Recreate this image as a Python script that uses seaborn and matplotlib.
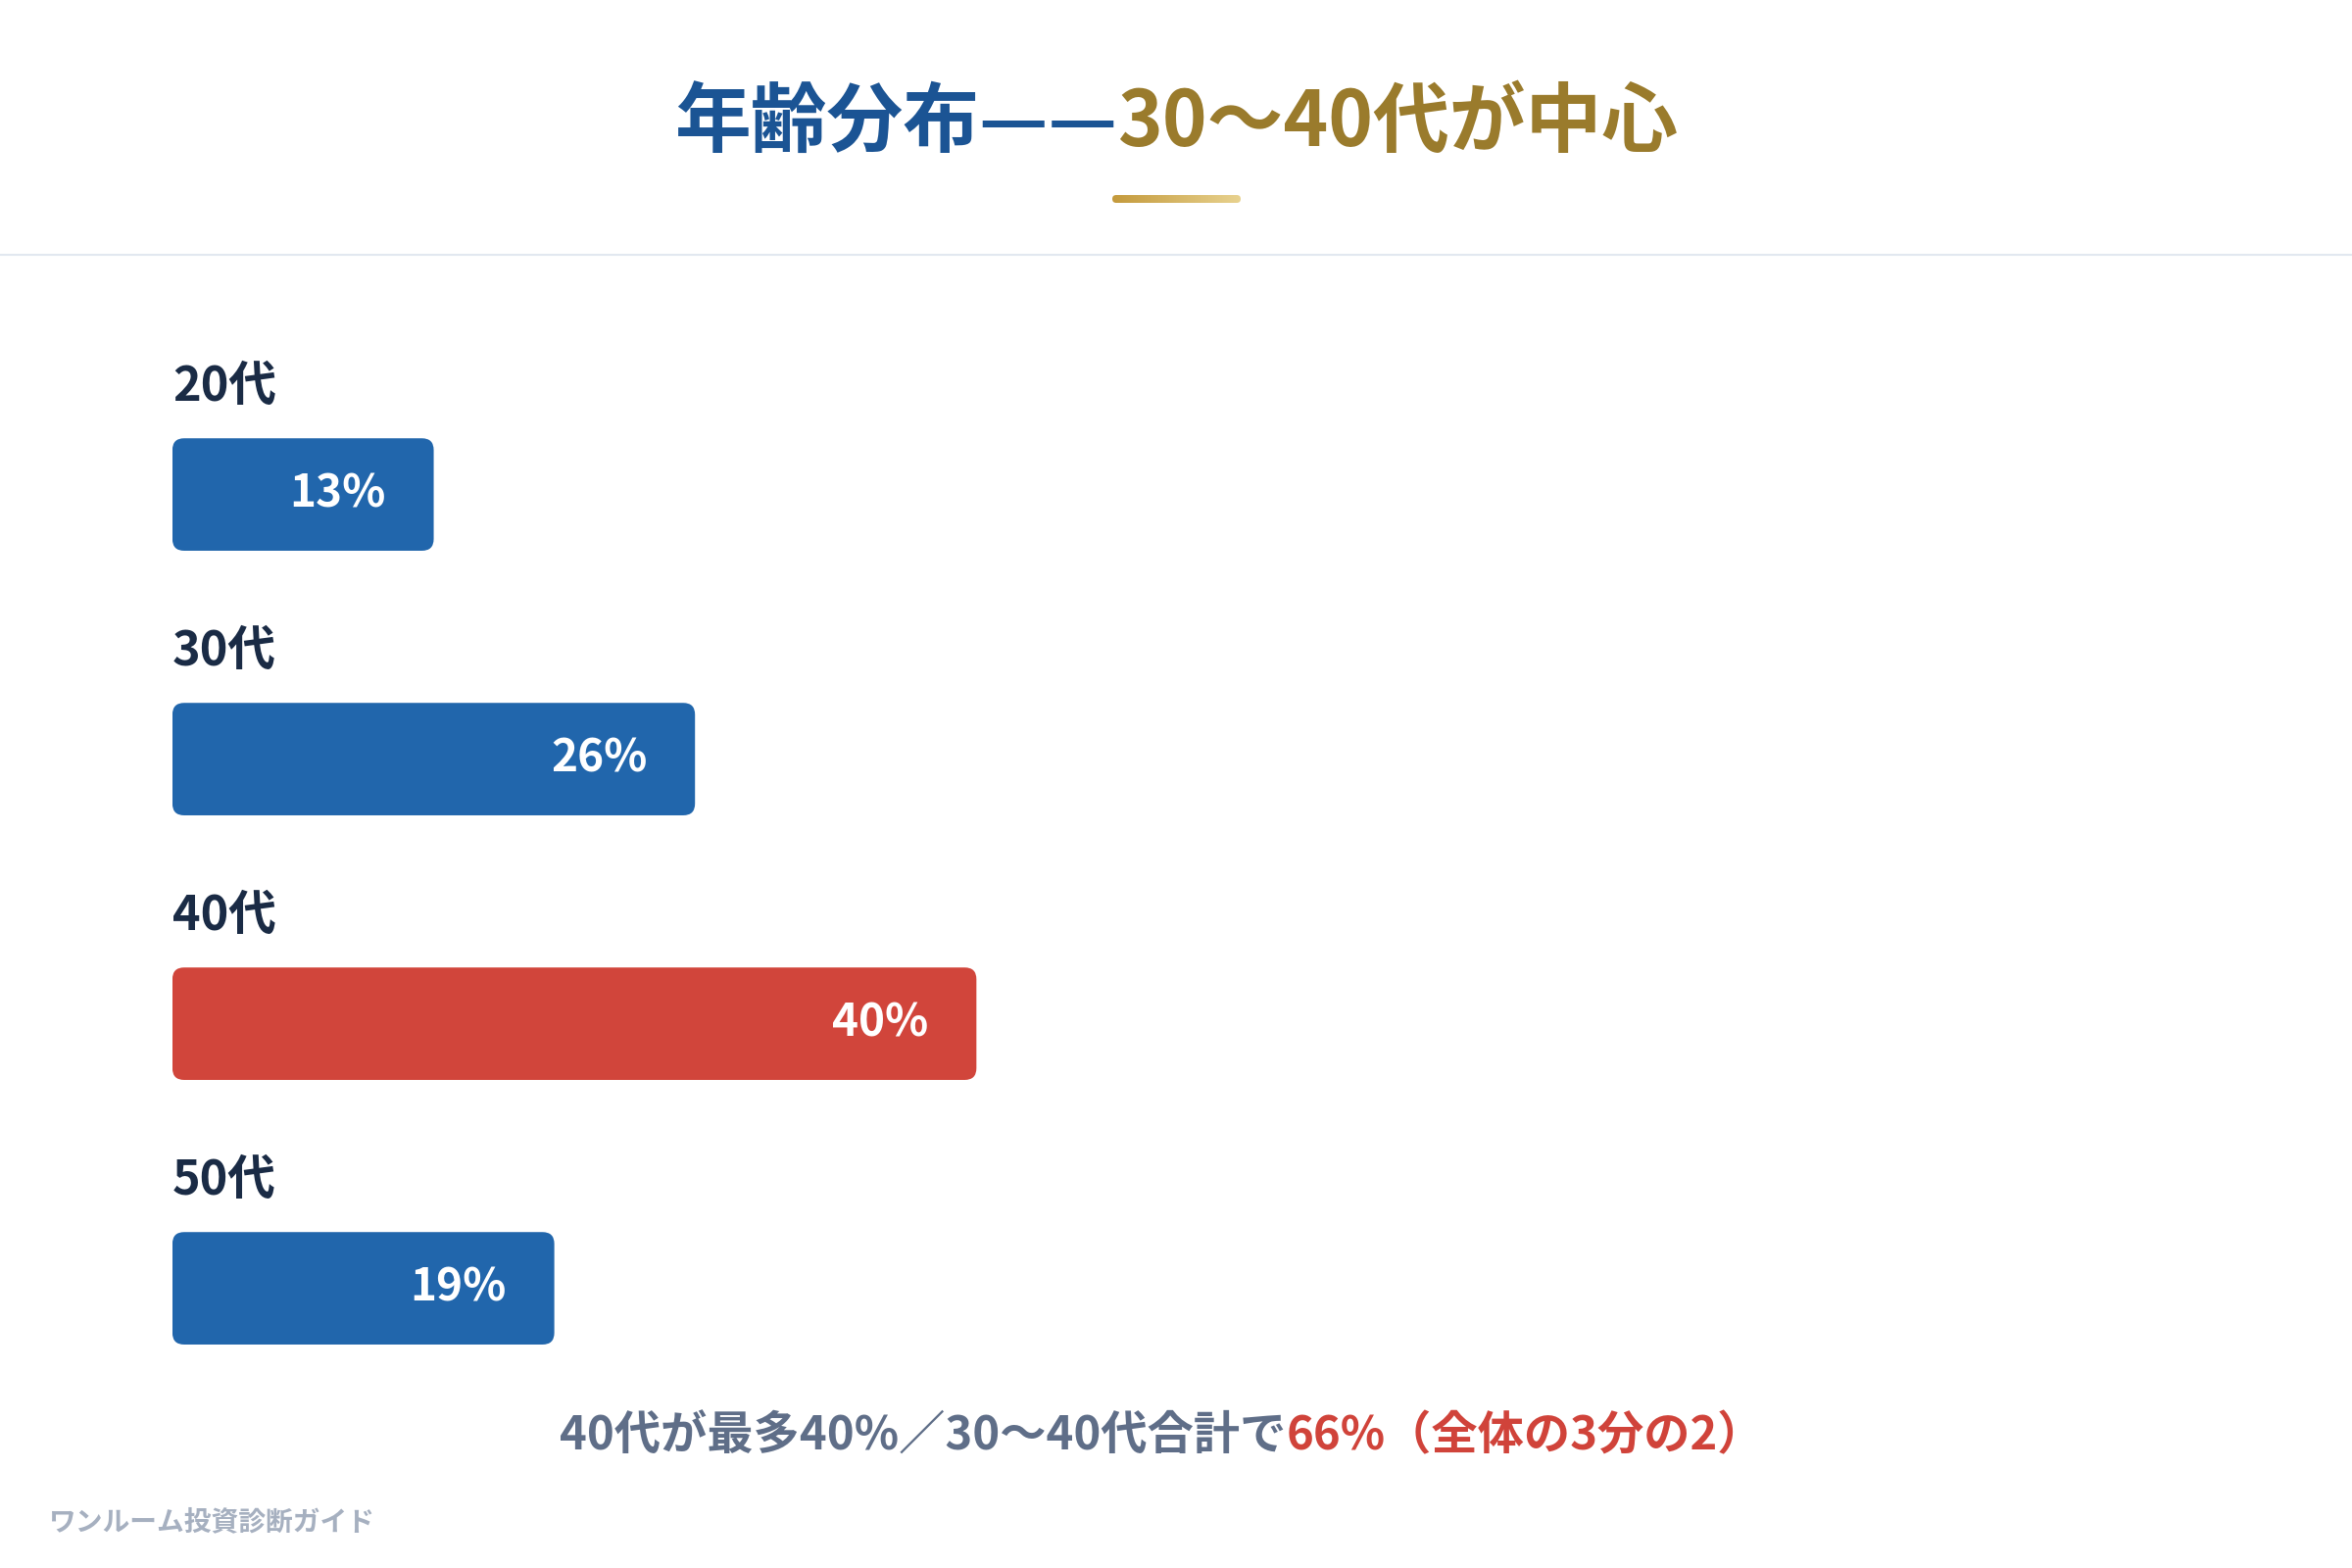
import numpy as np
import pandas as pd
import matplotlib
matplotlib.use('Agg')
import matplotlib.pyplot as plt
import seaborn as sns
from matplotlib.patches import FancyBboxPatch
from matplotlib.lines import Line2D
from matplotlib.colors import LinearSegmentedColormap
from matplotlib.offsetbox import TextArea, HPacker, AnnotationBbox

# データ
ages = ['20代', '30代', '40代', '50代']
shares = [13, 26, 40, 19]
bar_colors = ['#2166AC', '#2166AC', '#D1453B', '#2166AC']

title_main = '年齢分布——'
title_accent = '30〜40代が中心'
note_main = '40代が最多40%／30〜40代合計で'
note_accent = '66%（全体の3分の2）'
brand = 'ワンルーム投資診断ガイド'

sns.set_theme(style='white')
plt.rcParams['font.family'] = ['Noto Sans CJK JP', 'DejaVu Sans']

df = pd.DataFrame({'age': ages, 'share': shares})

fig = plt.figure(figsize=(24, 16), dpi=100, facecolor='white')
ax = fig.add_axes([0.0733, 0.094, 0.8546, 0.675])
sns.barplot(data=df, x='share', y='age', hue='age', palette=bar_colors,
            orient='h', width=0.425, saturation=1, legend=False, ax=ax)
ax.set_xlim(0, 100)
ax.set_ylim(3.5, -0.5)
ax.axis('off')

# 角丸バーに置き換え
fig.canvas.draw()
bb = ax.get_window_extent()
px_x = bb.width / 100
px_y = bb.height / 4
r_px = 12
for p in list(ax.patches):
    x, y = p.get_x(), p.get_y()
    w, h = p.get_width(), p.get_height()
    fc = p.get_facecolor()
    p.remove()
    ax.add_patch(FancyBboxPatch((x, y), w, h,
                                boxstyle=f'round,pad=0,rounding_size={r_px / px_x}',
                                mutation_aspect=px_x / px_y,
                                fc=fc, ec='none'))

for i, (age, v) in enumerate(zip(ages, shares)):
    ax.text(0, i - 0.41, age, ha='left', va='center', fontsize=35,
            fontweight='bold', color='#1A2B45')
    ax.annotate(f'{v}%', xy=(v, i), xytext=(-35, 0), textcoords='offset points',
                ha='right', va='center', fontsize=33, fontweight='bold', color='white')

# タイトル
t1 = TextArea(title_main, textprops=dict(fontsize=56, fontweight='bold', color='#1B5494'))
t2 = TextArea(title_accent, textprops=dict(fontsize=56, fontweight='bold', color='#9A7B2C'))
title_box = HPacker(children=[t1, t2], align='baseline', pad=0, sep=0)
ax.add_artist(AnnotationBbox(title_box, (0.5, 0.921), xycoords='figure fraction',
                             box_alignment=(0.5, 0.5), frameon=False, pad=0))

# 金色の下線
gax = fig.add_axes([1135 / 2400, 1 - 207 / 1600, 131 / 2400, 8 / 1600])
gold = LinearSegmentedColormap.from_list('gold', ['#C49A3C', '#E8D28F'])
img = gax.imshow(np.linspace(0, 1, 256).reshape(1, -1), cmap=gold, aspect='auto',
                 extent=[0, 1, 0, 1])
clip = FancyBboxPatch((0, 0), 1, 1, boxstyle=f'round,pad=0,rounding_size={4 / 131}',
                      mutation_aspect=131 / 8, transform=gax.transAxes, fc='none', ec='none')
gax.add_patch(clip)
img.set_clip_path(clip)
gax.axis('off')

# 区切り線
fig.add_artist(Line2D([0, 1], [0.8375, 0.8375], transform=fig.transFigure,
                      color='#E2E8F0', lw=1.5))

# 注記
n1 = TextArea(note_main, textprops=dict(fontsize=34, fontweight='semibold', color='#5F6E88'))
n2 = TextArea(note_accent, textprops=dict(fontsize=34, fontweight='bold', color='#D0433A'))
note_box = HPacker(children=[n1, n2], align='baseline', pad=0, sep=0)
ax.add_artist(AnnotationBbox(note_box, (0.494, 0.084), xycoords='figure fraction',
                             box_alignment=(0.5, 0.5), frameon=False, pad=0))

fig.text(0.021, 0.029, brand, ha='left', va='center', fontsize=20,
         fontweight='bold', color='#A6B0C0')

fig.savefig('out.png', dpi=100, facecolor='white')
